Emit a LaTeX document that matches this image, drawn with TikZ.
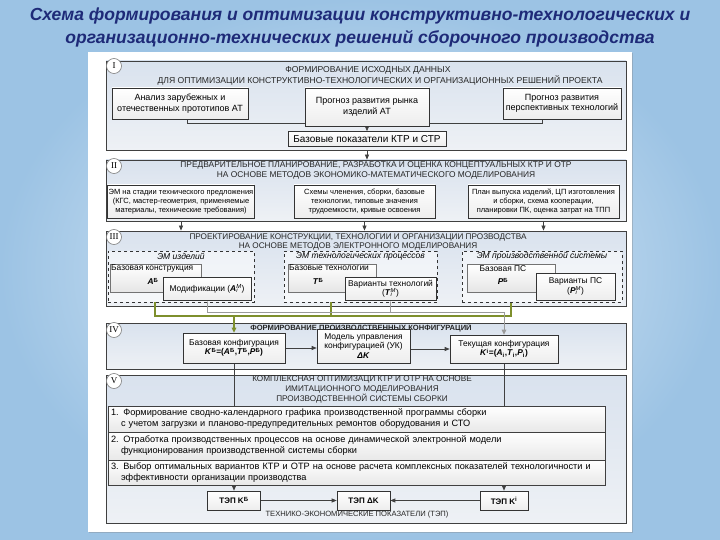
\documentclass[tikz,border=0pt]{standalone}
\usepackage{fontspec}
\setmainfont{Liberation Sans}
\newfontfamily\romanfont{Liberation Serif}
\usetikzlibrary{arrows.meta,shadows}
\definecolor{navy}{HTML}{1E2A78}
\definecolor{olivegreen}{HTML}{7E8F2C}
\definecolor{secA}{HTML}{D9E2EE}
\definecolor{secB}{HTML}{EEF1F5}
\definecolor{bgin}{HTML}{E8F2FA}
\definecolor{bgout}{HTML}{9CC3E4}
\definecolor{linegray}{HTML}{9A9A9A}
\newcommand\bi[1]{\textbf{\textit{#1}}}
\newcommand\ssc[2]{\rlap{\textsubscript{#1}}\textsuperscript{#2}}
\pgfdeclarelayer{bg}
\pgfdeclarelayer{conn}
\pgfsetlayers{bg,conn,main}
\begin{document}
\begin{tikzpicture}[x=1pt,y=-1pt,
  sec/.style={draw=black!75,line width=0.8pt,top color=secA,bottom color=secB,inner sep=0pt},
  box/.style={draw=black!80,line width=0.6pt,top color=white,bottom color=black!7,inner sep=1pt,align=center,font=\fontsize{8.4}{9.6}\selectfont},
  softbox/.style={draw=black!55,line width=0.5pt,top color=white,bottom color=black!10,inner sep=2pt},
  dbox/.style={draw=black!80,line width=0.7pt,dashed,fill=white,fill opacity=0.5,inner sep=0pt},
  stepbox/.style={draw=black!75,line width=0.6pt,top color=white,bottom color=black!9,inner xsep=3pt,inner ysep=0pt,font=\fontsize{9.2}{11}\selectfont,align=left,text width=491},
  roman/.style={circle,draw=black!50,fill=white,line width=0.6pt,minimum size=15pt,inner sep=0pt,font=\romanfont\fontsize{9}{9}\selectfont},
  hdr/.style={align=center,text=black!85},
  sub/.style={font=\itshape\fontsize{8.5}{9}\selectfont},
  lbl/.style={font=\fontsize{8.4}{9}\selectfont,inner sep=1pt},
  ttl/.style={text=navy,font=\bfseries\itshape\fontsize{17.5}{20}\selectfont},
  arr/.style={draw=black!75,line width=0.7pt,-{Triangle[length=5pt,width=4pt]}},
  grn/.style={draw=olivegreen,line width=1.3pt},
  gry/.style={draw=linegray,line width=1pt}]
\useasboundingbox (0,0) rectangle (720,540);
\begin{pgfonlayer}{bg}
\shade[inner color=bgin,outer color=bgout] (0,0) rectangle (720,540);
\fill[white,drop shadow={shadow xshift=1pt,shadow yshift=-1pt,opacity=0.35}] (88,52) rectangle (632,532);
\node[sec,minimum width=520,minimum height=89] (secI) at (366,105.5) {};
\node[sec,minimum width=520,minimum height=61] (secII) at (366,190.5) {};
\node[sec,minimum width=520,minimum height=75] (secIII) at (366,268.5) {};
\node[sec,minimum width=520,minimum height=46] (secIV) at (366,346) {};
\node[sec,minimum width=520,minimum height=148] (secV) at (366,449) {};
\end{pgfonlayer}
% title
\node[ttl] (t1) at (360,16) {Схема формирования и оптимизации конструктивно-технологических и};
\node[ttl] (t2) at (360,39) {организационно-технических решений сборочного производства};
\node[roman] (rI) at (114,66) {I};
\node[roman] (rII) at (114,166) {II};
\node[roman] (rIII) at (114,237) {III};
\node[roman] (rIV) at (114,330) {IV};
\node[roman] (rV) at (114,381) {V};
% ---- I
\node[hdr,font=\fontsize{8.6}{9}\selectfont] (hIa) at (368,70.5) {ФОРМИРОВАНИЕ ИСХОДНЫХ ДАННЫХ};
\node[hdr,font=\fontsize{8.6}{9}\selectfont] (hIb) at (380,80) {ДЛЯ ОПТИМИЗАЦИИ КОНСТРУКТИВНО-ТЕХНОЛОГИЧЕСКИХ И ОРГАНИЗАЦИОННЫХ РЕШЕНИЙ ПРОЕКТА};
\node[box,font=\fontsize{9}{10.5}\selectfont,minimum width=136,minimum height=31] (A1) at (180,103.5) {Анализ зарубежных и\\отечественных прототипов АТ};
\node[box,font=\fontsize{9}{10.5}\selectfont,minimum width=124,minimum height=38] (A2) at (367,107) {Прогноз развития рынка\\изделий АТ};
\node[box,font=\fontsize{9}{10.5}\selectfont,minimum width=118,minimum height=31] (A3) at (562,103.5) {Прогноз развития\\перспективных технологий};
\node[box,minimum width=158,minimum height=15,font=\fontsize{10}{11}\selectfont] (KTR) at (367,139) {Базовые показатели КТР и СТР};
\begin{pgfonlayer}{conn}
\draw[draw=black!75,line width=0.7pt] ([xshift=7pt]A1.south) -- ++(0,4) -| ([xshift=-20pt]A3.south);
\draw[arr] (A2.south) -- (KTR.north);
\draw[arr] (KTR.south |- secI.south) -- (KTR.south |- secII.north);
\end{pgfonlayer}
% ---- II
\node[hdr,font=\fontsize{8.4}{9.5}\selectfont] (hII) at (376,170.5) {ПРЕДВАРИТЕЛЬНОЕ ПЛАНИРОВАНИЕ, РАЗРАБОТКА И ОЦЕНКА КОНЦЕПТУАЛЬНЫХ КТР И ОТР\\НА ОСНОВЕ МЕТОДОВ ЭКОНОМИКО-МАТЕМАТИЧЕСКОГО МОДЕЛИРОВАНИЯ};
\node[box,minimum width=146,minimum height=33,font=\fontsize{7.5}{9.3}\selectfont] (B1) at (181,201.5) {ЭМ на стадии технического предложения\\(КГС, мастер-геометрия, применяемые\\материалы, технические требования)};
\node[box,minimum width=141,minimum height=33,font=\fontsize{7.5}{9.3}\selectfont] (B2) at (364.5,201.5) {Схемы членения, сборки, базовые\\технологии, типовые значения\\трудоемкости, кривые освоения};
\node[box,minimum width=151,minimum height=33,font=\fontsize{7.5}{9.3}\selectfont] (B3) at (543.5,201.5) {План выпуска изделий, ЦП изготовления\\и сборки, схема кооперации,\\планировки ПК, оценка затрат на ТПП};
\begin{pgfonlayer}{conn}
\draw[arr] (B1.south |- secII.south) -- (B1.south |- secIII.north);
\draw[arr] (B2.south |- secII.south) -- (B2.south |- secIII.north);
\draw[arr] (B3.south |- secII.south) -- (B3.south |- secIII.north);
\end{pgfonlayer}
% ---- III
\node[hdr,font=\fontsize{8.2}{9.5}\selectfont] (hIII) at (358,242) {ПРОЕКТИРОВАНИЕ КОНСТРУКЦИИ, ТЕХНОЛОГИИ И ОРГАНИЗАЦИИ ПРОЗВОДСТВА\\НА ОСНОВЕ МЕТОДОВ ЭЛЕКТРОННОГО МОДЕЛИРОВАНИЯ};
\node[dbox,minimum width=146,minimum height=51] (D1) at (181,276.5) {};
\node[dbox,minimum width=153,minimum height=51] (D2) at (360.5,276.5) {};
\node[dbox,minimum width=160,minimum height=51] (D3) at (542,276.5) {};
\node[sub] (s1) at (181,256.5) {ЭМ изделий};
\node[sub] (s2) at (360.5,256.5) {ЭМ технологических процессов};
\node[sub] (s3) at (542,256.5) {ЭМ производственной системы};
\node[softbox,minimum width=91,minimum height=28,anchor=north west] (BK) at (110,264) {};
\node[lbl,anchor=north west] (BKt) at (BK.north west) {Базовая конструкция};
\node[lbl] (BKs) at (153,281.5) {\bi{A}\textsuperscript{\textbf{Б}}};
\node[box,minimum width=88,minimum height=23] (Mod) at (207,288.5) {Модификации (\bi{A}\ssc{\textit{i}}{\textit{M}})};
\node[softbox,minimum width=88,minimum height=28,anchor=north west] (BT) at (288,264) {};
\node[lbl,anchor=north west] (BTt) at (BT.north west) {Базовые технологии};
\node[lbl] (BTs) at (318,281.5) {\bi{T}\textsuperscript{\textbf{Б}}};
\node[box,minimum width=91,minimum height=23,inner sep=0pt,font=\fontsize{8.4}{9.4}\selectfont] (VT) at (390.5,288.5) {Варианты технологий\\(\bi{T}\ssc{\textit{i}}{\textit{M}})};
\node[softbox,minimum width=88,minimum height=28,anchor=north west] (BP) at (467,264) {};
\node[lbl,anchor=north] (BPt) at (503,264) {Базовая ПС};
\node[lbl] (BPs) at (503,281.5) {\bi{P}\textsuperscript{\textbf{Б}}};
\node[box,minimum width=79,minimum height=27,inner sep=0pt,font=\fontsize{8.4}{9.4}\selectfont] (VP) at (575.5,286.5) {Варианты ПС\\(\bi{P}\ssc{\textit{i}}{\textit{M}})};
% ---- IV
\node[hdr,font=\bfseries\fontsize{7.6}{9}\selectfont] (hIV) at (361,327.5) {ФОРМИРОВАНИЕ ПРОИЗВОДСТВЕННЫХ КОНФИГУРАЦИЙ};
\node[box,minimum width=102,minimum height=30] (BC) at (234,348) {Базовая конфигурация\\\textbf{\bi{K}\textsuperscript{Б}=(\bi{A}\textsuperscript{Б},\bi{T}\textsuperscript{Б},\bi{P}\textsuperscript{Б})}};
\node[box,minimum width=93,minimum height=34] (Model) at (363.5,346) {Модель управления\\конфигурацией (УК)\\\bi{ΔK}};
\node[box,minimum width=108,minimum height=28] (CC) at (504,349) {Текущая конфигурация\\\textbf{\bi{K}\textsuperscript{i}=(\bi{A}\textsubscript{i},\bi{T}\textsubscript{i},\bi{P}\textsubscript{i})}};
\begin{pgfonlayer}{conn}
\draw[arr] (BC.east) -- (BC.east -| Model.west);
\draw[arr] (Model.east |- CC.west) -- (CC.west);
\draw[grn] (D1.south -| 155,0) -- (155,316) -- (511,316) -- (D3.south -| 511,0);
\draw[grn] (D2.south -| 331,0) -- (331,316);
\draw[grn,-{Triangle[length=5pt,width=4.5pt]}] (BC.north |- 0,316) -- (BC.north);
\draw[gry] (Mod.south) -- (Mod.south |- 0,312) -- (CC.north |- 0,312);
\draw[gry] (VT.south) -- (VT.south |- 0,312);
\draw[gry,-{Triangle[length=5pt,width=4.5pt]}] (CC.north |- 0,312) -- (CC.north);
\end{pgfonlayer}
% ---- V
\node[hdr,font=\fontsize{8.2}{10}\selectfont] (hV) at (362,389.5) {КОМПЛЕКСНАЯ ОПТИМИЗАЦИ КТР И ОТР НА ОСНОВЕ\\ИМИТАЦИОННОГО МОДЕЛИРОВАНИЯ\\ПРОИЗВОДСТВЕННОЙ СИСТЕМЫ СБОРКИ};
\node[stepbox,minimum height=26] (S1) at (356.5,419) {1. Формирование сводно-календарного графика производственной программы сборки\\\hspace*{10pt}с учетом загрузки и планово-предупредительных ремонтов оборудования и СТО};
\node[stepbox,minimum height=28] (S2) at (356.5,446) {2. Отработка производственных процессов на основе динамической электронной модели\\\hspace*{10pt}функционирования производственной системы сборки};
\node[stepbox,minimum height=25] (S3) at (356.5,472.5) {3. Выбор оптимальных вариантов КТР и ОТР на основе расчета комплексных показателей технологичности и\\\hspace*{10pt}эффективности организации производства};
\node[box,minimum width=53,minimum height=19,font=\bfseries\fontsize{8}{9}\selectfont] (TK1) at (234,500.5) {ТЭП K\textsuperscript{Б}};
\node[box,minimum width=53,minimum height=19,font=\bfseries\fontsize{8}{9}\selectfont] (TK2) at (363.5,500.5) {ТЭП ΔK};
\node[box,minimum width=48,minimum height=19,font=\bfseries\fontsize{8}{9}\selectfont] (TK3) at (504,500.5) {ТЭП K\textsuperscript{i}};
\begin{pgfonlayer}{conn}
\draw[arr] (BC.south) -- (TK1.north);
\draw[arr] (CC.south) -- (TK3.north);
\draw[arr] (TK1.east) -- (TK2.west);
\draw[arr] (TK3.west) -- (TK2.east);
\end{pgfonlayer}
\node[font=\fontsize{7.6}{8}\selectfont,text=black!85] (tep) at (357,515) {ТЕХНИКО-ЭКОНОМИЧЕСКИЕ ПОКАЗАТЕЛИ (ТЭП)};
\end{tikzpicture}
\end{document}
